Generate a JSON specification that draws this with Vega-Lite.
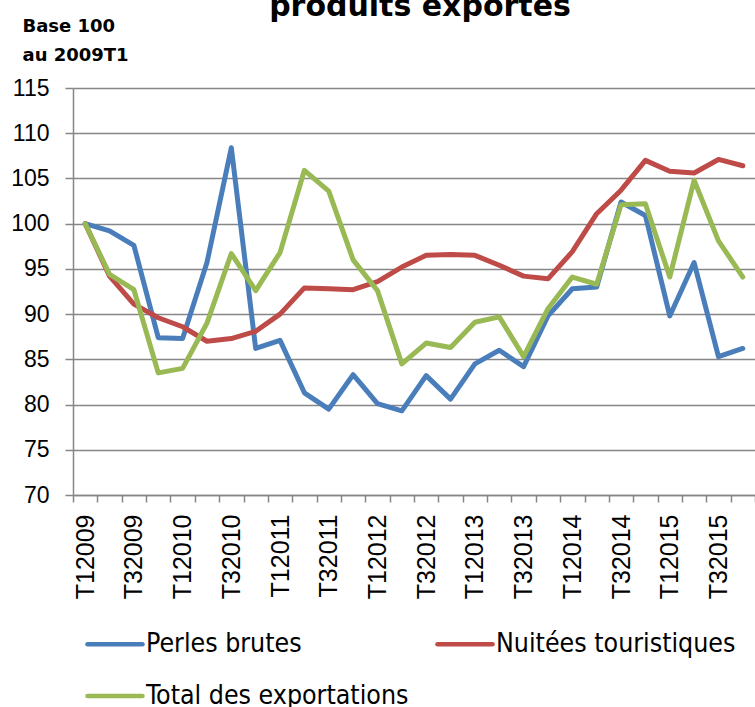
{
  "$schema": "https://vega.github.io/schema/vega-lite/v6.json",
  "autosize": {"type": "none"},
  "padding": {"left": 73, "top": 88, "right": 0, "bottom": 212},
  "width": 682,
  "height": 407,
  "background": "white",
  "title": {
    "text": "produits exportés",
    "font": "DejaVu Sans",
    "fontSize": 30,
    "fontWeight": "bold",
    "color": "black",
    "anchor": "middle",
    "baseline": "alphabetic",
    "offset": -29,
    "dx": 6
  },
  "config": {
    "view": {"stroke": null},
    "axis": {"domainColor": "#868686", "tickColor": "#868686", "domainWidth": 1.5, "tickWidth": 1.5, "labelColor": "black"}
  },
  "data": {
    "values": [
      {"q": "T12009", "s": "Perles brutes", "v": 100},
      {"q": "T22009", "s": "Perles brutes", "v": 99.2},
      {"q": "T32009", "s": "Perles brutes", "v": 97.6},
      {"q": "T42009", "s": "Perles brutes", "v": 87.4},
      {"q": "T12010", "s": "Perles brutes", "v": 87.3},
      {"q": "T22010", "s": "Perles brutes", "v": 95.7},
      {"q": "T32010", "s": "Perles brutes", "v": 108.4},
      {"q": "T42010", "s": "Perles brutes", "v": 86.2},
      {"q": "T12011", "s": "Perles brutes", "v": 87.1},
      {"q": "T22011", "s": "Perles brutes", "v": 81.3},
      {"q": "T32011", "s": "Perles brutes", "v": 79.5},
      {"q": "T42011", "s": "Perles brutes", "v": 83.3},
      {"q": "T12012", "s": "Perles brutes", "v": 80.1},
      {"q": "T22012", "s": "Perles brutes", "v": 79.3},
      {"q": "T32012", "s": "Perles brutes", "v": 83.2},
      {"q": "T42012", "s": "Perles brutes", "v": 80.6},
      {"q": "T12013", "s": "Perles brutes", "v": 84.5},
      {"q": "T22013", "s": "Perles brutes", "v": 86.0},
      {"q": "T32013", "s": "Perles brutes", "v": 84.2},
      {"q": "T42013", "s": "Perles brutes", "v": 89.8},
      {"q": "T12014", "s": "Perles brutes", "v": 92.8},
      {"q": "T22014", "s": "Perles brutes", "v": 93.0},
      {"q": "T32014", "s": "Perles brutes", "v": 102.4},
      {"q": "T42014", "s": "Perles brutes", "v": 100.9},
      {"q": "T12015", "s": "Perles brutes", "v": 89.8},
      {"q": "T22015", "s": "Perles brutes", "v": 95.7},
      {"q": "T32015", "s": "Perles brutes", "v": 85.3},
      {"q": "T42015", "s": "Perles brutes", "v": 86.2},
      {"q": "T12009", "s": "Nuitées touristiques", "v": 100},
      {"q": "T22009", "s": "Nuitées touristiques", "v": 94.2},
      {"q": "T32009", "s": "Nuitées touristiques", "v": 91.1},
      {"q": "T42009", "s": "Nuitées touristiques", "v": 89.6},
      {"q": "T12010", "s": "Nuitées touristiques", "v": 88.6},
      {"q": "T22010", "s": "Nuitées touristiques", "v": 87.0},
      {"q": "T32010", "s": "Nuitées touristiques", "v": 87.3},
      {"q": "T42010", "s": "Nuitées touristiques", "v": 88.1},
      {"q": "T12011", "s": "Nuitées touristiques", "v": 90.0},
      {"q": "T22011", "s": "Nuitées touristiques", "v": 92.9},
      {"q": "T32011", "s": "Nuitées touristiques", "v": 92.8},
      {"q": "T42011", "s": "Nuitées touristiques", "v": 92.7},
      {"q": "T12012", "s": "Nuitées touristiques", "v": 93.6},
      {"q": "T22012", "s": "Nuitées touristiques", "v": 95.2},
      {"q": "T32012", "s": "Nuitées touristiques", "v": 96.5},
      {"q": "T42012", "s": "Nuitées touristiques", "v": 96.6},
      {"q": "T12013", "s": "Nuitées touristiques", "v": 96.5},
      {"q": "T22013", "s": "Nuitées touristiques", "v": 95.4},
      {"q": "T32013", "s": "Nuitées touristiques", "v": 94.2},
      {"q": "T42013", "s": "Nuitées touristiques", "v": 93.9},
      {"q": "T12014", "s": "Nuitées touristiques", "v": 96.9},
      {"q": "T22014", "s": "Nuitées touristiques", "v": 101.1},
      {"q": "T32014", "s": "Nuitées touristiques", "v": 103.7},
      {"q": "T42014", "s": "Nuitées touristiques", "v": 107.0},
      {"q": "T12015", "s": "Nuitées touristiques", "v": 105.8},
      {"q": "T22015", "s": "Nuitées touristiques", "v": 105.6},
      {"q": "T32015", "s": "Nuitées touristiques", "v": 107.1},
      {"q": "T42015", "s": "Nuitées touristiques", "v": 106.4},
      {"q": "T12009", "s": "Total des exportations", "v": 100},
      {"q": "T22009", "s": "Total des exportations", "v": 94.4},
      {"q": "T32009", "s": "Total des exportations", "v": 92.7},
      {"q": "T42009", "s": "Total des exportations", "v": 83.5},
      {"q": "T12010", "s": "Total des exportations", "v": 84.0},
      {"q": "T22010", "s": "Total des exportations", "v": 89.0},
      {"q": "T32010", "s": "Total des exportations", "v": 96.7},
      {"q": "T42010", "s": "Total des exportations", "v": 92.6},
      {"q": "T12011", "s": "Total des exportations", "v": 96.8},
      {"q": "T22011", "s": "Total des exportations", "v": 105.9},
      {"q": "T32011", "s": "Total des exportations", "v": 103.6},
      {"q": "T42011", "s": "Total des exportations", "v": 96.0},
      {"q": "T12012", "s": "Total des exportations", "v": 92.6},
      {"q": "T22012", "s": "Total des exportations", "v": 84.5},
      {"q": "T32012", "s": "Total des exportations", "v": 86.8},
      {"q": "T42012", "s": "Total des exportations", "v": 86.3},
      {"q": "T12013", "s": "Total des exportations", "v": 89.1},
      {"q": "T22013", "s": "Total des exportations", "v": 89.7},
      {"q": "T32013", "s": "Total des exportations", "v": 85.3},
      {"q": "T42013", "s": "Total des exportations", "v": 90.6},
      {"q": "T12014", "s": "Total des exportations", "v": 94.1},
      {"q": "T22014", "s": "Total des exportations", "v": 93.3},
      {"q": "T32014", "s": "Total des exportations", "v": 102.1},
      {"q": "T42014", "s": "Total des exportations", "v": 102.2},
      {"q": "T12015", "s": "Total des exportations", "v": 94.1},
      {"q": "T22015", "s": "Total des exportations", "v": 104.8},
      {"q": "T32015", "s": "Total des exportations", "v": 98.1},
      {"q": "T42015", "s": "Total des exportations", "v": 94.1}
    ]
  },
  "mark": {"type": "line", "strokeWidth": 5, "strokeJoin": "round", "strokeCap": "round"},
  "encoding": {
    "x": {
      "field": "q",
      "type": "nominal",
      "sort": null,
      "scale": {"type": "band", "paddingInner": 0, "paddingOuter": 0},
      "axis": {
        "title": null,
        "tickBand": "extent",
        "grid": false,
        "labelAngle": -90,
        "labelFont": "Liberation Sans",
        "labelFontSize": 25,
        "labelPadding": 12,
        "tickSize": 7,
        "labelExpr": "(substring(datum.value,0,2) == 'T1' || substring(datum.value,0,2) == 'T3') ? datum.value : ''"
      }
    },
    "y": {
      "field": "v",
      "type": "quantitative",
      "scale": {"domain": [70, 115], "nice": false, "zero": false},
      "axis": {
        "values": [70, 75, 80, 85, 90, 95, 100, 105, 110, 115],
        "grid": true,
        "gridColor": "#868686",
        "gridWidth": 1.5,
        "tickSize": 8,
        "labelPadding": 16,
        "labelFont": "Liberation Sans",
        "labelFontSize": 23,
        "title": ["Base 100", "au 2009T1"],
        "titleAngle": 0,
        "titleAlign": "left",
        "titleBaseline": "alphabetic",
        "titleX": -51,
        "titleY": -57,
        "titleFont": "DejaVu Sans",
        "titleFontSize": 18,
        "titleFontWeight": "bold",
        "titleLineHeight": 29,
        "titleColor": "black"
      }
    },
    "color": {
      "field": "s",
      "type": "nominal",
      "sort": null,
      "scale": {
        "domain": ["Perles brutes", "Nuitées touristiques", "Total des exportations"],
        "range": ["#4A7EBB", "#BE4B48", "#98B954"]
      },
      "legend": {
        "title": null,
        "orient": "none",
        "legendX": 12,
        "legendY": 526,
        "direction": "horizontal",
        "columns": 2,
        "columnPadding": 19,
        "rowPadding": 8,
        "padding": 0,
        "symbolType": "stroke",
        "symbolSize": 3025,
        "symbolStrokeWidth": 4.5,
        "labelOffset": 1,
        "labelFont": "DejaVu Sans Condensed, Liberation Sans Narrow, sans-serif",
        "labelFontSize": 26.5,
        "labelColor": "black",
        "labelLimit": 400,
        "encode": {"symbols": {"update": {"strokeCap": {"value": "round"}}}}
      }
    }
  }
}
